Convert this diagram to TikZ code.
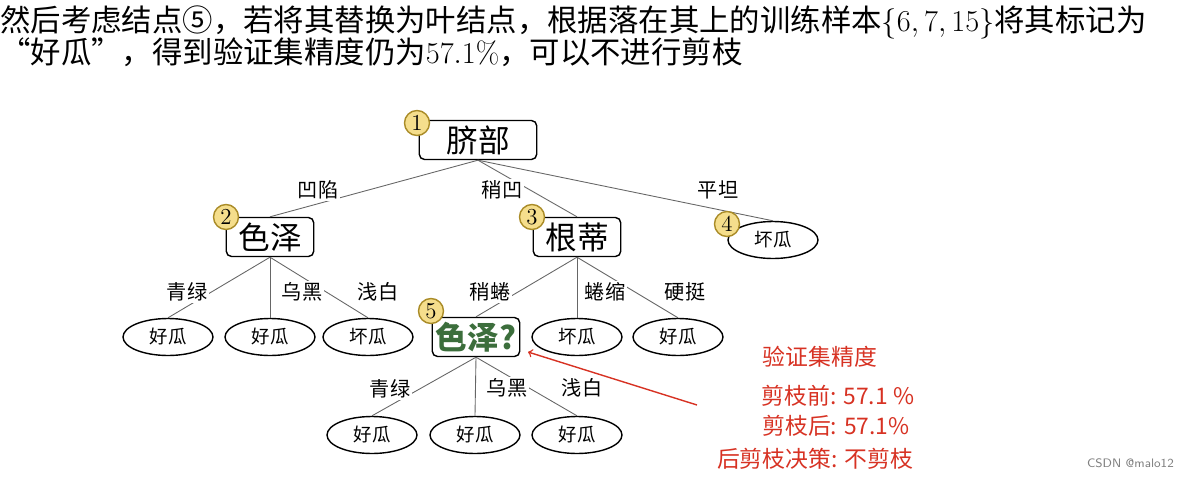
\documentclass[tikz,border=0pt]{standalone}
\usepackage{fontspec}
\usetikzlibrary{shapes.geometric}
\newfontfamily\cjk{Noto Sans CJK SC}
\definecolor{badgefill}{RGB}{245,222,140}
\definecolor{badgeline}{RGB}{170,140,40}
\definecolor{qgreen}{RGB}{60,110,60}
\definecolor{notered}{RGB}{215,50,35}
\begin{document}
\begin{tikzpicture}[x=0.02cm, y=-0.02cm]
  \tikzstyle{attr} = [rectangle, draw, thick, rounded corners=3pt, minimum width=1.75cm,
                      minimum height=0.78cm, inner sep=1pt, font=\cjk\fontsize{18}{20}\selectfont]
  \tikzstyle{leaf} = [ellipse, draw, thick, minimum width=1.8cm, minimum height=0.74cm,
                      inner sep=0pt, font=\cjk\fontsize{10.5}{12}\selectfont]
  \tikzstyle{badge} = [circle, draw=badgeline, fill=badgefill, thick, minimum size=0.5cm,
                       inner sep=0pt, font=\fontsize{13}{13}\selectfont]
  \tikzstyle{lab} = [font=\cjk\fontsize{11.5}{13}\selectfont, fill=white, inner sep=1pt]
  \tikzstyle{note} = [font=\cjk\fontsize{13}{14}\selectfont, text=notered]
  \tikzstyle{edge} = [draw=gray!80!black, line width=0.5pt]
\useasboundingbox (0,0) rectangle (1188,477);
% title
\node[anchor=west, inner sep=0pt, font=\cjk\fontsize{17.3}{19}\selectfont] (title1) at (0,22)
  {然后考虑结点⑤，若将其替换为叶结点，根据落在其上的训练样本$\{6,7,15\}$将其标记为};
\node[anchor=west, inner sep=0pt, font=\cjk\fontsize{17.3}{19}\selectfont] (title2) at (0,52)
  {“好瓜”，得到验证集精度仍为$57.1\%$，可以不进行剪枝};
% tree
\node[attr, minimum width=2.35cm] (root) at (478,140) {脐部};
\node[attr] (color) at (270,237) {色泽};
\node[attr] (stem) at (577,237) {根蒂};
\node[leaf] (bad1) at (773,240) {坏瓜};
\node[leaf] (good1) at (168,337) {好瓜};
\node[leaf] (good2) at (270,337) {好瓜};
\node[leaf] (bad2) at (368,337) {坏瓜};
\node[attr, text=qgreen, font=\cjk\bfseries\fontsize{18}{20}\selectfont] (color5) at (476,337) {色泽?};
\node[leaf] (bad3) at (577,337) {坏瓜};
\node[leaf] (good3) at (678,337) {好瓜};
\node[leaf] (good4) at (372,435) {好瓜};
\node[leaf] (good5) at (475,435) {好瓜};
\node[leaf] (good6) at (577,435) {好瓜};
% edges
\draw[edge] (root.south) -- (color.north);
\draw[edge] (root.south) -- (stem.north);
\draw[edge] (root.south) -- (bad1.north);
\draw[edge] (color.south) -- (good1.north);
\draw[edge] (color.south) -- (good2.north);
\draw[edge] (color.south) -- (bad2.north);
\draw[edge] (stem.south) -- (color5.north);
\draw[edge] (stem.south) -- (bad3.north);
\draw[edge] (stem.south) -- (good3.north);
\draw[edge] (color5.south) -- (good4.north);
\draw[edge] (color5.south) -- (good5.north);
\draw[edge] (color5.south) -- (good6.north);
% badges
\node[badge] (b1) at (417,123) {1};
\node[badge] (b2) at (226,217) {2};
\node[badge] (b3) at (532,217) {3};
\node[badge] (b4) at (727,224) {4};
\node[badge] (b5) at (431,311) {5};
% edge labels
\node[lab] (l1) at (318,190) {凹陷};
\node[lab] (l2) at (502,190) {稍凹};
\node[lab] (l3) at (718,190) {平坦};
\node[lab] (l4) at (187,292) {青绿};
\node[lab] (l5) at (302,292) {乌黑};
\node[lab] (l6) at (378,292) {浅白};
\node[lab] (l7) at (490,292) {稍蜷};
\node[lab] (l8) at (605,292) {蜷缩};
\node[lab] (l9) at (685,292) {硬挺};
\node[lab] (l10) at (390,389) {青绿};
\node[lab] (l11) at (507,388) {乌黑};
\node[lab] (l12) at (582,388) {浅白};
% note
\node[note] (n1) at (820,357) {验证集精度};
\node[note] (n2) at (838,396) {剪枝前: 57.1 \%};
\node[note] (n3) at (836,426) {剪枝后: 57.1\%};
\node[note] (n4) at (815,459) {后剪枝决策: 不剪枝};
\coordinate (tail) at (697,405);
\coordinate (head) at (528,352);
\draw[->, notered, thick] (tail) -- (head);
\node[text=gray, font=\fontsize{7}{8}\selectfont\sffamily, anchor=east] (mark) at (1180,463) {CSDN @malo12};
\end{tikzpicture}
\end{document}
